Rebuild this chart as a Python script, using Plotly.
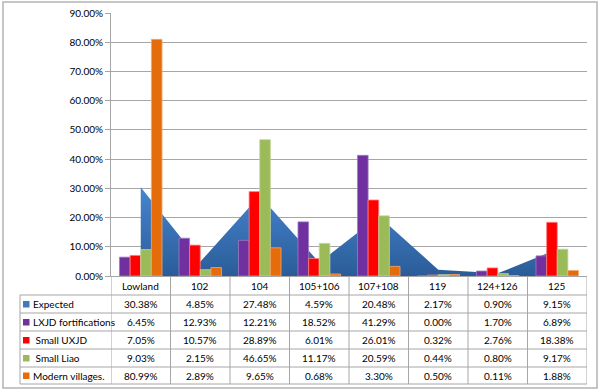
import plotly.graph_objects as go

categories = ["Lowland", "102", "104", "105+106", "107+108", "119", "124+126", "125"]
expected = [30.38, 4.85, 27.48, 4.59, 20.48, 2.17, 0.90, 9.15]
lxjd = [6.45, 12.93, 12.21, 18.52, 41.29, 0.00, 1.70, 6.89]
small_uxjd = [7.05, 10.57, 28.89, 6.01, 26.01, 0.32, 2.76, 18.38]
small_liao = [9.03, 2.15, 46.65, 11.17, 20.59, 0.44, 0.80, 9.17]
modern = [80.99, 2.89, 9.65, 0.68, 3.30, 0.50, 0.11, 1.88]

series_names = ["Expected", "LXJD fortifications", "Small UXJD", "Small Liao", "Modern villages."]
label_prefix = ["", "", "\u00a0", "\u00a0", ""]
series_values = [expected, lxjd, small_uxjd, small_liao, modern]
series_colors = ["#3f78be", "#7030a0", "#ff0000", "#9bbb59", "#e46c0a"]
bar_edges = [None, "#a07cc4", "#ff8080", "#c3d69b", "#f5a86a"]

W, H = 600, 392
L, R, T, B = 111, 13, 13, 116
pw, ph = W - L - R, H - T - B

def xp(px):
    return (px - L) / pw

def yp(py):
    return (H - B - py) / ph

FONT = "Lato"
FS = 10
fig = go.Figure()

# Area (Expected) on base subplot, drawn below the bars
fig.add_trace(go.Scatter(
    x=categories, y=[v / 100 for v in expected], name=series_names[0],
    mode="none", fill="tozeroy",
    fillgradient=dict(type="vertical", start=0, stop=0.31,
                      colorscale=[[0, "#2b5c98"], [1, "#4686d2"]]),
    xaxis="x", yaxis="y", showlegend=False, hoverinfo="skip",
))

for i in range(1, 5):
    fig.add_trace(go.Bar(
        x=categories, y=[v / 100 for v in series_values[i]], name=series_names[i],
        marker=dict(color=series_colors[i], line=dict(color=bar_edges[i], width=0.8)),
        xaxis="x", yaxis="y2", showlegend=False,
    ))

shapes = []
annotations = []
grid = "#a6a6a6"

# Table grid
row_edges = [295, 313, 331, 349, 367, 384]
for py in row_edges:
    shapes.append(dict(type="line", xref="paper", yref="paper",
                       x0=xp(20), x1=1, y0=yp(py), y1=yp(py),
                       line=dict(color=grid, width=1)))
shapes.append(dict(type="line", xref="paper", yref="paper",
                   x0=xp(20), x1=xp(20), y0=yp(295), y1=yp(384),
                   line=dict(color=grid, width=1)))
for k in range(len(categories) + 1):
    shapes.append(dict(type="line", xref="x", yref="paper",
                       x0=k - 0.5, x1=k - 0.5, y0=0, y1=yp(384),
                       line=dict(color=grid, width=1)))

# Header labels
for j, c in enumerate(categories):
    annotations.append(dict(x=j, xref="x", y=yp(285.5), yref="paper", text=c,
                            showarrow=False, font=dict(family=FONT, size=FS, color="#000"),
                            xanchor="center", yanchor="middle"))

row_centers = [304, 322, 340, 358, 375.5]
for r in range(5):
    yc = row_centers[r]
    shapes.append(dict(type="rect", xref="paper", yref="paper",
                       x0=xp(23), x1=xp(29.5), y0=yp(yc + 3.5), y1=yp(yc - 3),
                       fillcolor=series_colors[r] if r else "#3f7ac0", line=dict(width=0)))
    annotations.append(dict(x=xp(30.5), xref="paper", y=yp(yc), yref="paper",
                            text=label_prefix[r] + series_names[r], showarrow=False,
                            font=dict(family=FONT, size=FS, color="#000"),
                            xanchor="left", yanchor="middle"))
    for j in range(len(categories)):
        annotations.append(dict(x=j, xref="x", y=yp(yc), yref="paper",
                                text=f"{series_values[r][j]:.2f}%", showarrow=False,
                                font=dict(family=FONT, size=FS, color="#000"),
                                xanchor="center", yanchor="middle"))

# Outer chart border
shapes.append(dict(type="rect", xref="paper", yref="paper",
                   x0=xp(3), x1=xp(597), y0=yp(388), y1=yp(2),
                   line=dict(color="#b4b4b4", width=1.5)))

fig.update_layout(
    width=W, height=H,
    margin=dict(l=L, r=R, t=T, b=B, pad=0),
    paper_bgcolor="white", plot_bgcolor="white",
    barmode="group", bargap=0.285, bargroupgap=0,
    font=dict(family=FONT, size=FS, color="#000"),
    xaxis=dict(type="category", showticklabels=False, showgrid=False,
               showline=True, linecolor=grid, linewidth=1, ticks="",
               range=[-0.5, len(categories) - 0.5], zeroline=False),
    yaxis=dict(range=[0, 0.9], dtick=0.1, tickformat=".2%", showgrid=True,
               gridcolor="#a6a6a6", gridwidth=1, showline=True, linecolor=grid,
               ticks="outside", ticklen=5, tickcolor=grid, zeroline=False,
               automargin=False,
               tickfont=dict(family=FONT, size=FS, color="#000")),
    yaxis2=dict(range=[0, 0.9], overlaying="y", visible=False),
    shapes=shapes, annotations=annotations,
    showlegend=False,
)

fig.write_html("out.html", config={"displayModeBar": False},
               post_script="document.body.style.margin='0';")
